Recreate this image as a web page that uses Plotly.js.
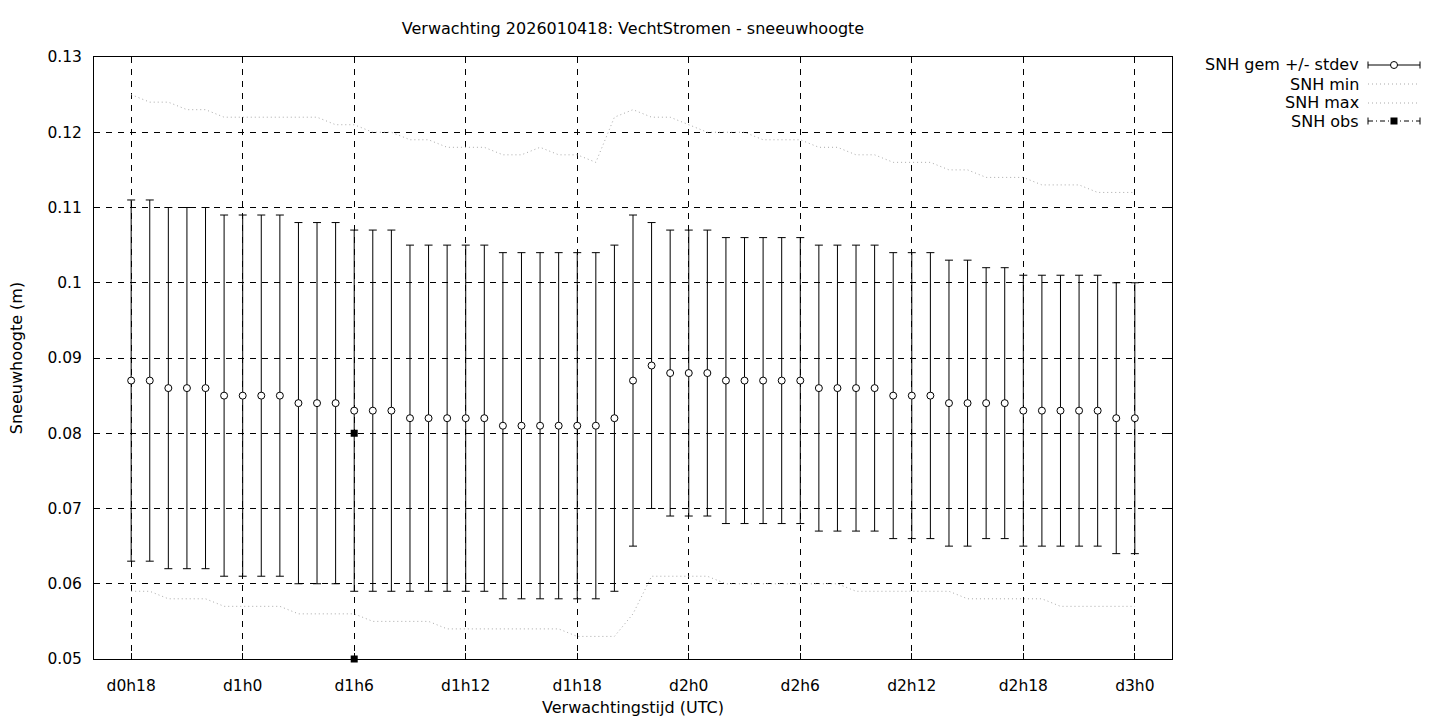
<!DOCTYPE html>
<html>
<head>
<meta charset="utf-8">
<script src="https://cdn.plot.ly/plotly-3.0.1.min.js"></script>
<style>html,body{margin:0;padding:0;background:#fff;}#chart{width:1440px;height:720px;}</style>
</head>
<body>
<div id="chart"></div>
<script>
// Forecast hour (hours since d0h0)
const hours = [18,19,20,21,22,23,24,25,26,27,28,29,30,31,32,33,34,35,36,37,38,39,40,41,42,43,44,45,
  46,47,48,49,50,51,52,53,54,55,56,57,58,59,60,61,62,63,64,65,66,67,68,69,70,71,72];
// SNH gem (mean snow depth, m)
const snhMean = [0.087,0.087,0.086,0.086,0.086,0.085,0.085,0.085,0.085,0.084,0.084,0.084,0.083,0.083,0.083,
  0.082,0.082,0.082,0.082,0.082,0.081,0.081,0.081,0.081,0.081,0.081,0.082,0.087,0.089,0.088,0.088,0.088,
  0.087,0.087,0.087,0.087,0.087,0.086,0.086,0.086,0.086,0.085,0.085,0.085,0.084,0.084,0.084,0.084,
  0.083,0.083,0.083,0.083,0.083,0.082,0.082];
// stdev
const snhStdev = [0.024,0.024,0.024,0.024,0.024,0.024,0.024,0.024,0.024,0.024,0.024,0.024,0.024,0.024,0.024,
  0.023,0.023,0.023,0.023,0.023,0.023,0.023,0.023,0.023,0.023,0.023,0.023,0.022,
  0.019,0.019,0.019,0.019,0.019,0.019,0.019,0.019,0.019,0.019,0.019,0.019,0.019,0.019,0.019,0.019,0.019,0.019,
  0.018,0.018,0.018,0.018,0.018,0.018,0.018,0.018,0.018];
// SNH min
const snhMin = [0.059,0.059,0.058,0.058,0.058,0.057,0.057,0.057,0.057,0.056,0.056,0.056,0.056,0.055,0.055,0.055,
  0.055,0.054,0.054,0.054,0.054,0.054,0.054,0.054,0.053,0.053,0.053,0.056,0.061,0.061,0.061,0.061,0.060,0.060,
  0.060,0.060,0.060,0.060,0.060,0.059,0.059,0.059,0.059,0.059,0.059,0.058,0.058,0.058,0.058,0.058,0.057,0.057,
  0.057,0.057,0.057];
// SNH max
const snhMax = [0.125,0.124,0.124,0.123,0.123,0.122,0.122,0.122,0.122,0.122,0.122,0.121,0.121,0.120,0.120,0.119,
  0.119,0.118,0.118,0.118,0.117,0.117,0.118,0.117,0.117,0.116,0.122,0.123,0.122,0.122,0.121,0.120,0.120,0.120,
  0.119,0.119,0.119,0.118,0.118,0.117,0.117,0.116,0.116,0.116,0.115,0.115,0.114,0.114,0.114,0.113,0.113,0.113,
  0.112,0.112,0.112];
// SNH obs
const obsHours = [30, 30];
const obsValues = [0.080, 0.050];

const xTickVals = [18,24,30,36,42,48,54,60,66,72];
const xTickText = ['d0h18','d1h0','d1h6','d1h12','d1h18','d2h0','d2h6','d2h12','d2h18','d3h0'];
const yTickVals = [0.05,0.06,0.07,0.08,0.09,0.10,0.11,0.12,0.13];
const yTickText = ['0.05','0.06','0.07','0.08','0.09','0.1','0.11','0.12','0.13'];

const legendNames = ['SNH gem +/- stdev','SNH min','SNH max','SNH obs'];

const FONT = 'DejaVu Sans, Verdana, sans-serif';
const GRAY = '#a9a9a9';

const traces = [
  {x: hours, y: snhMin, type: 'scatter', mode: 'lines', name: legendNames[1],
   line: {color: GRAY, width: 1, dash: '1px,3px'}, showlegend: false},
  {x: hours, y: snhMax, type: 'scatter', mode: 'lines', name: legendNames[2],
   line: {color: GRAY, width: 1, dash: '1px,3px'}, showlegend: false},
  {x: hours, y: snhMean, type: 'scatter', mode: 'markers', name: legendNames[0],
   error_y: {type: 'data', array: snhStdev, visible: true, color: '#000', thickness: 1, width: 4},
   marker: {symbol: 'circle', size: 7, color: '#fff', line: {color: '#000', width: 1}},
   showlegend: false},
  {x: obsHours, y: obsValues, type: 'scatter', mode: 'markers', name: legendNames[3],
   marker: {symbol: 'square', size: 7, color: '#000'}, cliponaxis: false, showlegend: false}
];

// plot area in pixels
const L = 94, R = 1172, T = 57, B = 659;
const px = X => (X - L) / (R - L);
const py = Y => (B - Y) / (B - T);

const rowsY = [65, 84, 103, 121];
const symX0 = 1368, symX1 = 1420, symXc = 1394, textX = 1361;

const shapes = [];
const annotations = [];
legendNames.forEach((name, i) => {
  annotations.push({xref: 'paper', yref: 'paper', x: px(textX), y: py(rowsY[i]), text: name,
    showarrow: false, xanchor: 'right', yanchor: 'middle', font: {family: FONT, size: 16, color: '#000'}});
});
// row 0: errorbar symbol
shapes.push({type: 'line', xref: 'paper', yref: 'paper', x0: px(symX0), x1: px(symX1), y0: py(rowsY[0]), y1: py(rowsY[0]), line: {color: '#000', width: 1}});
[symX0, symX1].forEach(X => shapes.push({type: 'line', xref: 'paper', yref: 'paper', x0: px(X), x1: px(X), y0: py(rowsY[0] - 3.5), y1: py(rowsY[0] + 3.5), line: {color: '#000', width: 1}}));
shapes.push({type: 'circle', xref: 'paper', yref: 'paper', xsizemode: 'pixel', ysizemode: 'pixel', xanchor: px(symXc), yanchor: py(rowsY[0]), x0: -3.5, x1: 3.5, y0: -3.5, y1: 3.5, fillcolor: '#fff', line: {color: '#000', width: 1}});
// rows 1,2: dotted gray
[1, 2].forEach(i => shapes.push({type: 'line', xref: 'paper', yref: 'paper', x0: px(symX0), x1: px(symX1), y0: py(rowsY[i]), y1: py(rowsY[i]), line: {color: GRAY, width: 1, dash: '1px,3px'}}));
// row 3: obs dash-dot
shapes.push({type: 'line', xref: 'paper', yref: 'paper', x0: px(symX0), x1: px(symX1), y0: py(rowsY[3]), y1: py(rowsY[3]), line: {color: '#000', width: 1, dash: '5px,3px,1px,3px'}});
[symX0, symX1].forEach(X => shapes.push({type: 'line', xref: 'paper', yref: 'paper', x0: px(X), x1: px(X), y0: py(rowsY[3] - 3.5), y1: py(rowsY[3] + 3.5), line: {color: '#000', width: 1}}));
shapes.push({type: 'rect', xref: 'paper', yref: 'paper', xsizemode: 'pixel', ysizemode: 'pixel', xanchor: px(symXc), yanchor: py(rowsY[3]), x0: -3.5, x1: 3.5, y0: -3.5, y1: 3.5, fillcolor: '#000', line: {color: '#000', width: 0}});

const axisCommon = {
  showline: true, linecolor: '#000', linewidth: 1, mirror: 'ticks',
  ticks: 'inside', ticklen: 6, tickcolor: '#000', tickwidth: 1,
  showgrid: true, gridcolor: '#000', gridwidth: 1, griddash: '6px,6px',
  zeroline: false, tickfont: {family: FONT, size: 15.5, color: '#000'}, automargin: false
};

const layout = {
  width: 1440, height: 720,
  margin: {l: L, r: 1440 - R, t: T, b: 720 - B, pad: 0},
  paper_bgcolor: '#fff', plot_bgcolor: '#fff',
  showlegend: false,
  font: {family: FONT, size: 16, color: '#000'},
  title: {text: 'Verwachting 2026010418: VechtStromen - sneeuwhoogte', x: 0.5, xref: 'paper', xanchor: 'center',
          y: 1 - 28 / 720, yref: 'container', yanchor: 'middle', font: {family: FONT, size: 16, color: '#000'}},
  xaxis: Object.assign({}, axisCommon, {
    range: [16, 74], tickmode: 'array', tickvals: xTickVals, ticktext: xTickText, ticklabelstandoff: 12,
    title: {text: 'Verwachtingstijd (UTC)', standoff: 8, font: {family: FONT, size: 16, color: '#000'}}
  }),
  yaxis: Object.assign({}, axisCommon, {
    range: [0.05, 0.13], tickmode: 'array', tickvals: yTickVals, ticktext: yTickText, ticklabelstandoff: 8,
    title: {text: 'Sneeuwhoogte (m)', standoff: 20, font: {family: FONT, size: 16, color: '#000'}}
  }),
  shapes: shapes,
  annotations: annotations
};

Plotly.newPlot('chart', traces, layout, {staticPlot: true, displayModeBar: false});
</script>
</body>
</html>
